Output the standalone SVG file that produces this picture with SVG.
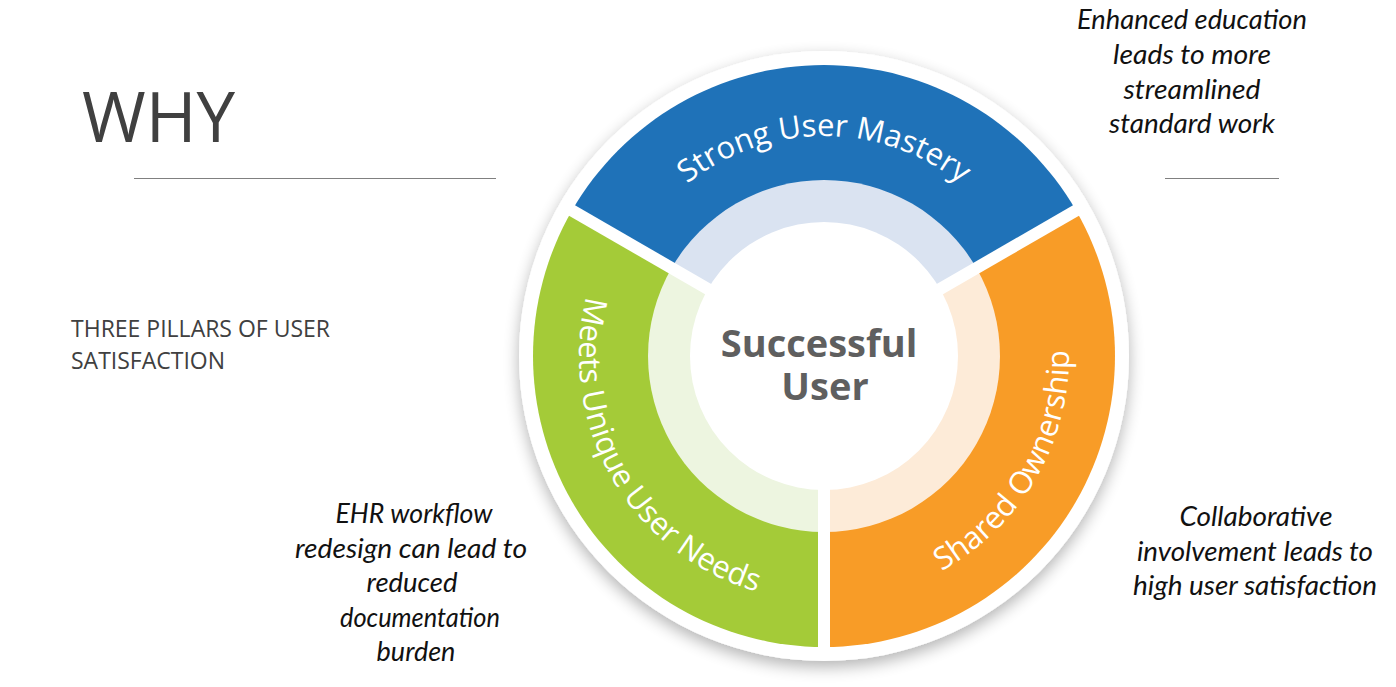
<svg xmlns="http://www.w3.org/2000/svg" xmlns:xlink="http://www.w3.org/1999/xlink" width="1396" height="687" viewBox="0 0 1396 687">
<style>
.side{font-family:Lato,"Liberation Sans",sans-serif;font-style:italic;font-size:27px;fill:#111;text-anchor:middle}
.ring{font-family:"Open Sans","Liberation Sans",sans-serif;font-size:31px;fill:#fff}
.head{font-family:"Open Sans","Liberation Sans",sans-serif;fill:#404040}
.center{font-family:"Open Sans","Liberation Sans",sans-serif;font-weight:700;font-size:38px;fill:#5F5F5F;text-anchor:middle}
.rule{stroke:#808080;stroke-width:1.2}
.gap{stroke:#fff;stroke-width:12}
</style>
<defs>
<filter id="sh" x="-20%" y="-20%" width="140%" height="140%">
<feGaussianBlur in="SourceAlpha" stdDeviation="8"/>
<feOffset dx="0" dy="6" result="b"/>
<feComponentTransfer><feFuncA type="linear" slope="0.3"/></feComponentTransfer>
<feMerge><feMergeNode/><feMergeNode in="SourceGraphic"/></feMerge>
</filter>
<path id="pBlue" d="M604 356 A220 220 0 0 1 1044 356"/>
<path id="pGreen" d="M701.5 143.8 A245 245 0 0 0 946.5 568.2"/>
<path id="pOrange" d="M701.5 568.2 A245 245 0 0 0 946.5 143.8"/>
</defs>
<rect width="1396" height="687" fill="#fff"/>

<g id="title">
<text class="head" x="82" y="142" font-size="69">WHY</text>
<line class="rule" x1="134" y1="178.5" x2="496" y2="178.5"/>
<line class="rule" x1="1165" y1="178.5" x2="1279" y2="178.5"/>
<text class="head" x="71" y="337" font-size="23">THREE PILLARS OF USER</text>
<text class="head" x="71" y="369" font-size="23">SATISFACTION</text>
</g>

<g id="wheel-base">
<circle cx="824" cy="356" r="305" fill="#fff" filter="url(#sh)"/>
</g>

<g id="strong-user-mastery">
<path d="M824 356 L572 210.5 A291 291 0 0 1 1076 210.5 Z" fill="#1F72B8"/>
<path d="M824 356 L671.6 268 A176 176 0 0 1 976.4 268 Z" fill="#DAE3F1"/>
<text class="ring"><textPath href="#pBlue" xlink:href="#pBlue" startOffset="50%" text-anchor="middle">Strong User Mastery</textPath></text>
</g>

<g id="shared-ownership">
<path d="M824 356 L1076 210.5 A291 291 0 0 1 824 647 Z" fill="#F89C27"/>
<path d="M824 356 L976.4 268 A176 176 0 0 1 824 532 Z" fill="#FDEBD8"/>
<text class="ring"><textPath href="#pOrange" xlink:href="#pOrange" startOffset="50%" text-anchor="middle">Shared Ownership</textPath></text>
</g>

<g id="meets-unique-user-needs">
<path d="M824 356 L824 647 A291 291 0 0 1 572 210.5 Z" fill="#A4CB38"/>
<path d="M824 356 L824 532 A176 176 0 0 1 671.6 268 Z" fill="#EDF5E0"/>
<text class="ring"><textPath href="#pGreen" xlink:href="#pGreen" startOffset="50%" text-anchor="middle">Meets Unique User Needs</textPath></text>
</g>

<g id="gaps">
<line class="gap" x1="824" y1="356" x2="564.2" y2="206"/>
<line class="gap" x1="824" y1="356" x2="1083.8" y2="206"/>
<line class="gap" x1="824" y1="356" x2="824" y2="660"/>
</g>

<g id="successful-user">
<circle cx="824" cy="356" r="134" fill="#fff"/>
<text class="center"><tspan x="819" y="357">Successful</tspan><tspan x="825" y="400">User</tspan></text>
</g>

<g id="note-education">
<text class="side" x="1192" y="29" textLength="230" lengthAdjust="spacingAndGlyphs">Enhanced education</text>
<text class="side" x="1192" y="64" textLength="158" lengthAdjust="spacingAndGlyphs">leads to more</text>
<text class="side" x="1192" y="99" textLength="137" lengthAdjust="spacingAndGlyphs">streamlined</text>
<text class="side" x="1192" y="133" textLength="166" lengthAdjust="spacingAndGlyphs">standard work</text>
</g>

<g id="note-ehr">
<text class="side" x="414" y="523" textLength="157" lengthAdjust="spacingAndGlyphs">EHR workflow</text>
<text class="side" x="411" y="558" textLength="232" lengthAdjust="spacingAndGlyphs">redesign can lead to</text>
<text class="side" x="412" y="592" textLength="91" lengthAdjust="spacingAndGlyphs">reduced</text>
<text class="side" x="420" y="627" textLength="160" lengthAdjust="spacingAndGlyphs">documentation</text>
<text class="side" x="416" y="661">burden</text>
</g>

<g id="note-collab">
<text class="side" x="1256" y="526" textLength="153" lengthAdjust="spacingAndGlyphs">Collaborative</text>
<text class="side" x="1255" y="561" textLength="236" lengthAdjust="spacingAndGlyphs">involvement leads to</text>
<text class="side" x="1255" y="595" textLength="244" lengthAdjust="spacingAndGlyphs">high user satisfaction</text>
</g>
</svg>
